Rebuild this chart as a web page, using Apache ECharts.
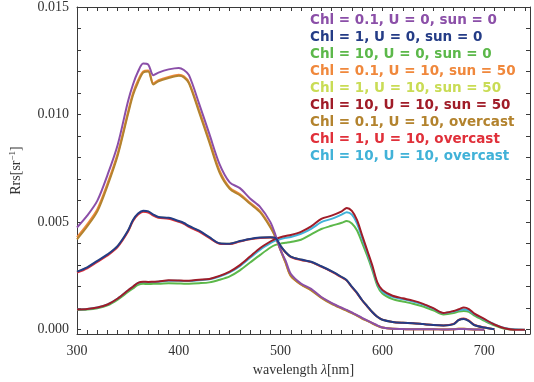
<!DOCTYPE html>
<html>
<head>
<meta charset="utf-8">
<script src="https://cdn.jsdelivr.net/npm/echarts@6/dist/echarts.min.js"></script>
<style>html,body{margin:0;padding:0;background:#fff;}#c{width:534px;height:382px;}</style>
</head>
<body>
<div id="c"></div>
<script>
// wavelengths (nm)
var wavelengths = [300,310,320,330,340,350,355,360,365,370,375,380,390,400,405,410,420,430,440,450,460,470,480,490,495,500,505,510,520,530,540,550,560,565,570,575,580,585,590,595,600,610,620,630,640,650,660,670,675,680,685,690,700,710,720,730,740];

var seriesNames = [
  'Chl = 0.1, U = 0, sun = 0',
  'Chl = 1, U = 0, sun = 0',
  'Chl = 10, U = 0, sun = 0',
  'Chl = 0.1, U = 10, sun = 50',
  'Chl = 1, U = 10, sun = 50',
  'Chl = 10, U = 10, sun = 50',
  'Chl = 0.1, U = 10, overcast',
  'Chl = 1, U = 10, overcast',
  'Chl = 10, U = 10, overcast'
];

var chl01_u0 = [0.00475,0.0053,0.0060,0.0072,0.0086,0.0106,0.0114,0.0120,0.01237,0.01232,0.01183,0.01195,0.01210,0.01217,0.01207,0.01183,0.0105,0.0091,0.0077,0.00685,0.00658,0.0061,0.0057,0.0050,0.0044,0.0037,0.0032,0.0026,0.00215,0.0019,0.00152,0.00125,0.00102,0.00092,0.0008,0.00068,0.00055,0.00043,0.00032,0.0002,0.0001,0.00004,0.00003,0.00002,0.00002,0.00002,0.00001,0.00002,0.00003,0.00003,0.00002,0.00001,0.0,null,null,null,null];
var chl1_u0 = [0.0027,0.0029,0.0032,0.0035,0.0039,0.0046,0.0051,0.0054,0.00553,0.0055,0.00535,0.00524,0.0052,0.00505,0.00496,0.00482,0.0046,0.0043,0.00402,0.004,0.00412,0.00422,0.00428,0.0043,0.00426,0.0039,0.0036,0.0034,0.00326,0.00316,0.00295,0.00272,0.00245,0.0023,0.002,0.00172,0.00138,0.0011,0.00082,0.0006,0.00046,0.00036,0.00032,0.0003,0.00026,0.00022,0.0002,0.00026,0.00045,0.0005,0.0004,0.00022,0.0001,0.00002,null,null,null];
var chl10_u0 = [0.00092,0.00094,0.001,0.00113,0.0014,0.00175,0.00192,0.00208,0.00213,0.00212,0.00213,0.00213,0.00216,0.00215,0.00214,0.00214,0.00216,0.0022,0.00232,0.00248,0.00276,0.00312,0.00348,0.00382,0.00394,0.004,0.00404,0.00408,0.00418,0.00443,0.00468,0.00483,0.00497,0.00505,0.00494,0.00462,0.00405,0.00345,0.00278,0.00205,0.00168,0.00142,0.00131,0.00121,0.00108,0.0009,0.00071,0.00077,0.00085,0.00087,0.00083,0.00066,0.00042,0.0002,0.00004,0.0,null];
var chl01_u10_sun50 = [0.0043,0.0049,0.0056,0.0068,0.0082,0.0101,0.0110,0.0116,0.0120,0.01205,0.01145,0.0116,0.01175,0.01185,0.01178,0.0115,0.0102,0.0088,0.0074,0.0066,0.0063,0.0059,0.0055,0.0048,0.0043,0.0037,0.0031,0.0025,0.0021,0.00185,0.0015,0.00122,0.001,0.0009,0.00078,0.00066,0.00053,0.00042,0.0003,0.00019,0.0001,0.00004,0.00003,0.00002,0.00002,0.00002,0.00001,0.00002,0.00004,0.00004,0.00002,0.00001,0.0,null,null,null,null];
var chl1_u10_sun50 = [0.00268,0.00288,0.00318,0.00348,0.00388,0.00458,0.00508,0.00538,0.0055,0.00548,0.00532,0.00522,0.00518,0.00503,0.00494,0.0048,0.00458,0.00428,0.00401,0.00399,0.00411,0.00421,0.00427,0.00429,0.00425,0.00389,0.00359,0.00339,0.00325,0.00315,0.00294,0.00271,0.00244,0.00229,0.00199,0.00171,0.00137,0.0011,0.00082,0.0006,0.00046,0.00036,0.00032,0.0003,0.00026,0.00022,0.0002,0.00026,0.00045,0.00051,0.00041,0.00022,0.0001,0.00002,null,null,null];
var chl10_u10_sun50 = [0.00094,0.00096,0.00103,0.00117,0.00145,0.00182,0.002,0.00218,0.00223,0.00222,0.00223,0.00224,0.0023,0.00229,0.00228,0.00228,0.00232,0.00236,0.0025,0.0027,0.003,0.0034,0.0038,0.0041,0.00422,0.0043,0.00436,0.0044,0.00455,0.0048,0.00515,0.0053,0.0055,0.00566,0.00552,0.0051,0.0044,0.0037,0.003,0.0022,0.00185,0.00158,0.00146,0.00135,0.0012,0.001,0.00078,0.00087,0.00095,0.00103,0.00096,0.00076,0.0005,0.00024,0.00007,0.0,0.0];
var chl01_u10_oc = [0.0042,0.0048,0.0055,0.0067,0.0081,0.0100,0.0109,0.0115,0.01195,0.0120,0.0114,0.01155,0.0117,0.0118,0.01173,0.01145,0.0101,0.0087,0.0073,0.00655,0.00625,0.00585,0.00545,0.00475,0.0043,0.0037,0.0031,0.0025,0.0021,0.00183,0.00148,0.0012,0.00098,0.00088,0.00077,0.00065,0.00052,0.00041,0.0003,0.00018,0.0001,0.00004,0.00003,0.00002,0.00002,0.00002,0.00001,0.00002,0.00004,0.00004,0.00002,0.00001,0.0,null,null,null,null];
var chl1_u10_oc = [0.00265,0.00285,0.00315,0.00345,0.00385,0.00455,0.00505,0.00535,0.00548,0.00545,0.0053,0.0052,0.00516,0.00501,0.00492,0.00478,0.00456,0.00427,0.004,0.00398,0.0041,0.0042,0.00426,0.00428,0.00424,0.00388,0.00358,0.00338,0.00324,0.00314,0.00293,0.0027,0.00243,0.00228,0.00198,0.0017,0.00137,0.00109,0.00082,0.0006,0.00047,0.00036,0.00032,0.0003,0.00026,0.00022,0.0002,0.00027,0.00046,0.00052,0.00042,0.00023,0.0001,0.00002,null,null,null];
var chl10_u10_oc = [0.00094,0.00096,0.00103,0.00117,0.00145,0.00182,0.002,0.00217,0.00222,0.00221,0.00222,0.00223,0.00228,0.00227,0.00226,0.00226,0.0023,0.00234,0.00247,0.00266,0.00295,0.00334,0.00372,0.00402,0.00414,0.00421,0.00427,0.00431,0.00446,0.00469,0.005,0.00515,0.00535,0.00546,0.00535,0.00494,0.00428,0.00362,0.0029,0.00215,0.00178,0.00153,0.00142,0.00131,0.00117,0.00098,0.00077,0.00085,0.00092,0.00094,0.0009,0.00073,0.00048,0.00025,0.00008,0.00002,0.0];

var seriesValues = [chl01_u0, chl1_u0, chl10_u0, chl01_u10_sun50, chl1_u10_sun50, chl10_u10_sun50, chl01_u10_oc, chl1_u10_oc, chl10_u10_oc];
var seriesColors = ['#8b4fa8','#243c86','#5cb84a','#f0883c','#c9dc55','#a01c28','#b3832e','#e0303a','#41b2d8'];
// drawing order (higher drawn on top)
var seriesZ = [9, 9, 2, 3, 3, 8, 4, 4, 6];

// axis tick labels
var xTickLabels = [300,400,500,600,700];
var yTickLabels = [0.000,0.005,0.010,0.015];
var xMinorTicks = [300,310,320,330,340,350,360,370,380,390,400,410,420,430,440,450,460,470,480,490,500,510,520,530,540,550,560,570,580,590,600,610,620,630,640,650,660,670,680,690,700,710,720,730,740];
var yMinorTicks = [0,0.001,0.002,0.003,0.004,0.005,0.006,0.007,0.008,0.009,0.010,0.011,0.012,0.013,0.014,0.015];

var serif = 'Liberation Serif';
var axisColor = '#3a3a3a';

function xAxisCfg(pos, showLabel) {
  return {
    type: 'value', position: pos, min: 300, max: 745,
    axisLine: {show: true, onZero: false, lineStyle: {color: axisColor, width: 1}},
    axisTick: {show: true, inside: true, length: 4, customValues: xMinorTicks, lineStyle: {color: axisColor}},
    axisLabel: {show: showLabel, customValues: xTickLabels, margin: 10, fontFamily: serif, fontSize: 14, color: '#333'},
    splitLine: {show: false},
    name: showLabel ? 'wavelength {i|λ}[nm]' : '',
    nameLocation: 'middle', nameGap: 29,
    nameTextStyle: {fontFamily: serif, fontSize: 14, color: '#333', rich: {i: {fontFamily: serif, fontStyle: 'italic', fontSize: 14, color: '#333'}}}
  };
}
function yAxisCfg(pos, showLabel) {
  return {
    type: 'value', position: pos, min: -0.0002, max: 0.015,
    axisLine: {show: true, onZero: false, lineStyle: {color: axisColor, width: 1}},
    axisTick: {show: true, inside: true, length: 4, customValues: yMinorTicks, lineStyle: {color: axisColor}},
    axisLabel: {show: showLabel, customValues: yTickLabels, margin: 8, fontFamily: serif, fontSize: 14, color: '#333',
      formatter: function (v) { return v.toFixed(3); }},
    splitLine: {show: false},
    name: showLabel ? '{a|Rrs[sr}{s|−1}{a|]}' : '',
    nameLocation: 'middle', nameGap: 52, nameRotate: 90,
    nameTextStyle: {rich: {a: {fontFamily: serif, fontSize: 14, color: '#333'}, s: {fontFamily: serif, fontSize: 9, color: '#333', verticalAlign: 'top', padding: [0,0,8,0]}}}
  };
}

var series = seriesNames.map(function (name, k) {
  var vals = seriesValues[k];
  var data = [];
  for (var i = 0; i < wavelengths.length; i++) {
    if (vals[i] !== null) data.push([wavelengths[i], vals[i]]);
  }
  return {
    name: name, type: 'line', data: data, showSymbol: false, symbol: 'none',
    smooth: 0.3, color: seriesColors[k], z: seriesZ[k],
    lineStyle: {width: 2, color: seriesColors[k]}
  };
});

var chart = echarts.init(document.getElementById('c'), null, {renderer: 'canvas'});
chart.setOption({
  animation: false,
  backgroundColor: '#fff',
  grid: {left: 71, right: 4, top: 5, bottom: 47, containLabel: false},
  xAxis: [xAxisCfg('bottom', true), xAxisCfg('top', false)],
  yAxis: [yAxisCfg('left', true), yAxisCfg('right', false)],
  legend: {
    orient: 'vertical', left: 300, top: 8, itemGap: 3, itemWidth: 0, itemHeight: 14,
    icon: 'rect', selectedMode: false,
    textStyle: {fontFamily: 'DejaVu Sans', fontWeight: 'bold', fontSize: 13.5, padding: 0},
    data: seriesNames.map(function (n, k) {
      return {name: n, icon: 'rect', itemStyle: {opacity: 0}, textStyle: {color: seriesColors[k]}};
    })
  },
  series: series
});
</script>
</body>
</html>
